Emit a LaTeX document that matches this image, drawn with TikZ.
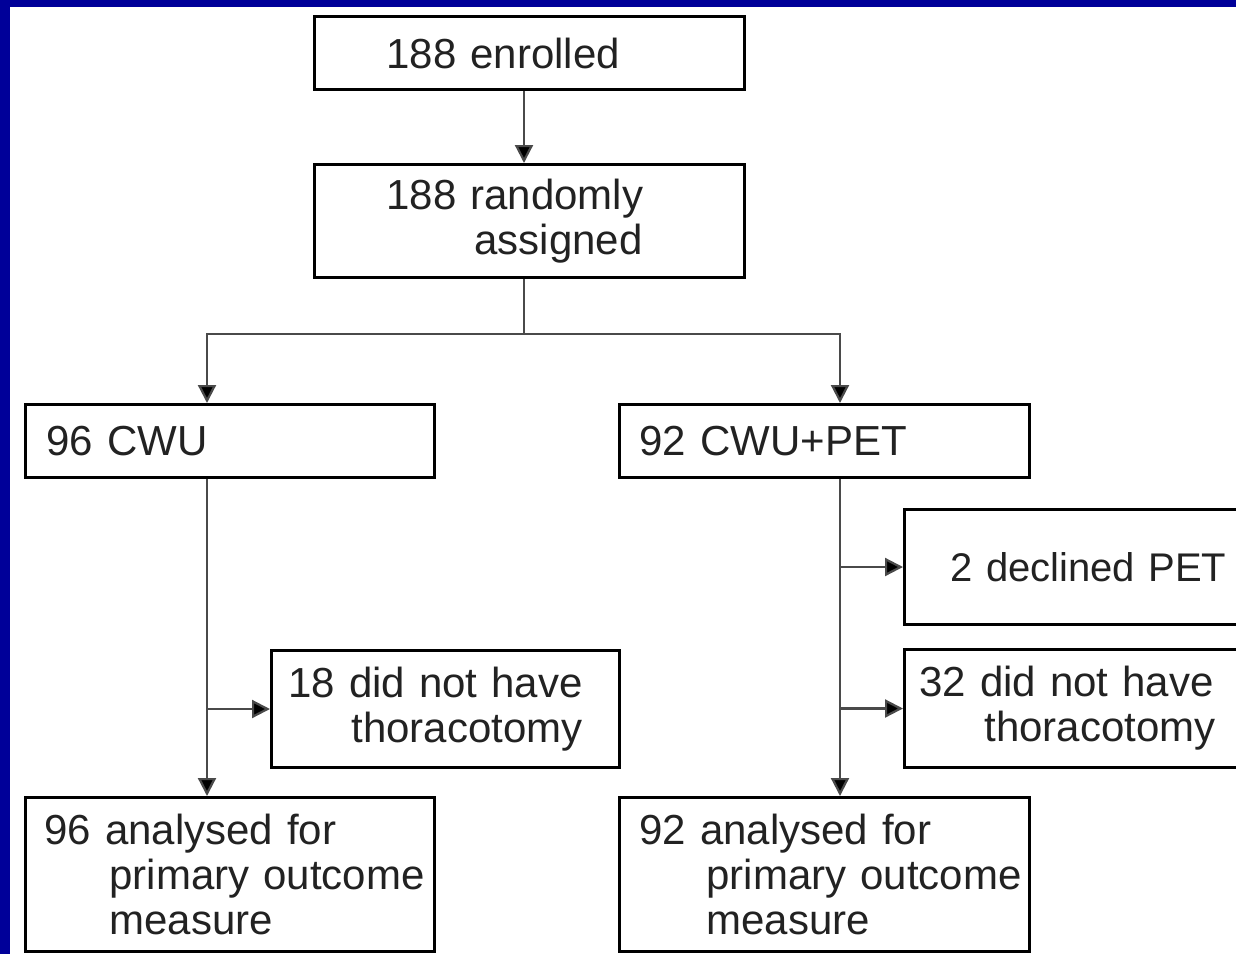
\documentclass[tikz,border=0pt]{standalone}
\usepackage{fontspec}
\setmainfont{Liberation Sans}
\usetikzlibrary{arrows.meta, calc}
\definecolor{FrameBlue}{HTML}{000099}
\definecolor{InkA}{HTML}{222222}
\definecolor{LineA}{HTML}{4A4A4A}
\tikzset{
  box/.style={draw=black, line width=1.5pt, anchor=north west, align=left, text=InkA,
    font=\fontsize{21pt}{22.5pt}\selectfont, inner ysep=2pt},
  lnk/.style={draw=LineA, line width=1.1pt},
  arr/.style={lnk, -{Triangle[length=9pt, width=9pt, fill=black]}}
}
\begin{document}
\begin{tikzpicture}[x=0.5pt, y=-0.5pt]
  \useasboundingbox (0,0) rectangle (1236,954);
  \fill[FrameBlue] (0,0) rectangle (1236,954);
  \fill[white] (10,7) rectangle (1236,954);

  % top of the chart
  \node[box, inner xsep=36pt, text width=143pt, minimum height=36.5pt] (enrol) at (313,15) {188 enrolled};
  \node[box, inner xsep=36pt, text width=143pt, minimum height=56.5pt] (rand) at (313,163) {188 randomly\\\hspace*{44pt}assigned};

  % the two arms
  \node[box, inner xsep=10.5pt, text width=183.5pt, minimum height=36.5pt] (cwu) at (24,403) {96 CWU};
  \node[box, inner xsep=10pt, text width=185pt, minimum height=36.5pt] (pet) at (618,403) {92 CWU+PET};

  % losses
  \node[box, inner xsep=23pt, text width=154pt, minimum height=57.5pt,
    font=\fontsize{20pt}{22.5pt}\selectfont] (declined) at (903,508) {2 declined PET};
  \node[box, inner xsep=8.5pt, text width=157pt, minimum height=58.5pt] (nothA) at (270,649) {18 did not have\\\hspace*{31.5pt}thoracotomy};
  \node[box, inner xsep=7.5pt, text width=185pt, minimum height=59pt] (nothB) at (903,648) {32 did not have\\\hspace*{32.5pt}thoracotomy};

  % analysed
  \node[box, inner xsep=9.5pt, text width=185.5pt, minimum height=77pt] (anA) at (24,796) {96 analysed for\\\hspace*{32.5pt}\mbox{primary outcome}\\\hspace*{32.5pt}measure};
  \node[box, inner xsep=10pt, text width=185pt, minimum height=77pt] (anB) at (618,796) {92 analysed for\\\hspace*{33.5pt}\mbox{primary outcome}\\\hspace*{33.5pt}measure};

  \coordinate (split) at (524,334);
  \coordinate (lt) at (207,334);
  \coordinate (rt) at (840,334);

  \draw[arr] (enrol.south -| split) -- (rand.north -| split);
  \draw[lnk] (rand.south -| split) -- (split);
  \draw[arr] (split) -- (lt) -- (cwu.north -| lt);
  \draw[arr] (split) -- (rt) -- (pet.north -| rt);
  \draw[arr] (cwu.south -| lt) -- (anA.north -| lt);
  \draw[arr] (pet.south -| rt) -- (anB.north -| rt);
  \draw[arr] (nothA.west -| lt) -- (nothA.west);
  \draw[arr] (declined.west -| rt) -- (declined.west);
  \draw[arr] (nothB.west -| rt) -- (nothB.west);
\end{tikzpicture}
\end{document}
